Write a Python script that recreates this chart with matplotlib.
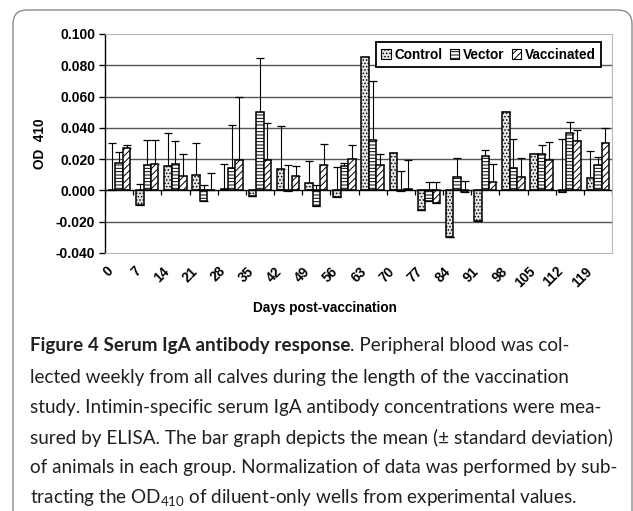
import numpy as np
import matplotlib
matplotlib.use("Agg")
import matplotlib.pyplot as plt
from matplotlib.patches import FancyBboxPatch, Patch
from matplotlib.transforms import IdentityTransform, ScaledTranslation

plt.rcParams['axes.unicode_minus'] = False
plt.rcParams['hatch.linewidth'] = 0.7
plt.rcParams['mathtext.fontset'] = 'custom'
plt.rcParams['mathtext.rm'] = 'Lato'

# data (mean and +SD)
days = [0, 7, 14, 21, 28, 35, 42, 49, 56, 63, 70, 77, 84, 91, 98, 105, 112, 119]
control = [0.0005, -0.0096, 0.0153, 0.0098, 0.001, -0.0036, 0.014, 0.0049, -0.0043,
           0.085, 0.024, -0.0127, -0.030, -0.0195, 0.050, 0.0235, -0.001, 0.008]
control_sd = [0.0295, 0.0139, 0.0217, 0.0208, 0.016, 0.0, 0.027, 0.014, 0.0193,
              0.0, 0.0, 0.0, 0.0, 0.0, 0.0, 0.0, 0.034, 0.0175]
vector = [0.0176, 0.0164, 0.0168, -0.0068, 0.0145, 0.050, -0.0005, -0.010, 0.0153,
          0.032, -0.0005, -0.007, 0.0083, 0.022, 0.0145, 0.023, 0.0367, 0.016]
vector_sd = [0.007, 0.0156, 0.0148, 0.0102, 0.0275, 0.0345, 0.0165, 0.0134, 0.002,
             0.038, 0.0132, 0.0127, 0.0127, 0.004, 0.0185, 0.006, 0.0068, 0.0055]
vaccinated = [0.027, 0.0168, 0.0094, 0.0003, 0.0195, 0.0195, 0.0093, 0.016, 0.020,
              0.016, 0.001, -0.0083, -0.001, 0.0055, 0.0085, 0.0197, 0.0314, 0.0304]
vaccinated_sd = [0.002, 0.0152, 0.0136, 0.0107, 0.0405, 0.0235, 0.0064, 0.0135, 0.009,
                 0.0076, 0.0187, 0.014, 0.007, 0.0111, 0.0125, 0.0111, 0.007, 0.0096]

series = [("Control", control, control_sd, '#e6e6e6', '.....'),
          ("Vector", vector, vector_sd, 'white', '-----'),
          ("Vaccinated", vaccinated, vaccinated_sd, 'white', '/////')]

W, H = 633, 511
fig = plt.figure(figsize=(W / 100, H / 100), dpi=100)

# rounded panel border
fig.add_artist(FancyBboxPatch((13, -20), 619, 521, boxstyle="round,pad=0,rounding_size=14",
                              transform=IdentityTransform(), fill=False,
                              edgecolor='#8a8a8a', linewidth=1.0))

ax = fig.add_axes([105 / W, 1 - 253 / H, 507 / W, 219 / H])
x = np.arange(len(days))
bw = 0.266
for k, (name, vals, sd, fc, hatch) in enumerate(series):
    pos = x + (k - 1) * bw
    ax.errorbar(pos, vals, yerr=[np.zeros(len(sd)), sd], fmt='none', ecolor='black',
                elinewidth=0.8, capsize=2.6, capthick=0.9, zorder=2)
    ax.bar(pos, vals, width=bw, color=fc, edgecolor='black', hatch=hatch,
           linewidth=1.1, zorder=3, label=name)

ax.set_xlim(-0.5, len(days) - 0.5)
ax.set_ylim(-0.04, 0.10)
ax.set_yticks(np.arange(-0.04, 0.1001, 0.02))
ax.yaxis.set_major_formatter(matplotlib.ticker.FormatStrFormatter('%.3f'))
for yv in [-0.02, 0.02, 0.04, 0.06, 0.08]:
    ax.axhline(yv, color='#555555', linewidth=1.0, zorder=1)
ax.axhline(0, color='black', linewidth=1.0, zorder=4)
ax.vlines(np.arange(len(days) + 1) - 0.5, -0.0028, 0, color='black', linewidth=0.9, zorder=4)

for s in ['top', 'right', 'bottom']:
    ax.spines[s].set_color('#b8b8b8')
ax.spines['left'].set_color('black')
ax.spines['left'].set_linewidth(1.0)

ax.tick_params(axis='y', direction='out', length=4, width=1, labelsize=10, pad=3)
ax.tick_params(axis='x', length=0, pad=8, labelsize=9.8)
ax.set_xticks(x)
ax.set_xticklabels([str(d) for d in days], rotation=45, ha='right', fontweight='bold',
                   family='Liberation Sans')
off = ScaledTranslation(-2.5 / 72, 0, fig.dpi_scale_trans)
for lab in ax.get_xticklabels():
    lab.set_transform(lab.get_transform() + off)
for lab in ax.get_yticklabels():
    lab.set_fontweight('bold')
    lab.set_family('Liberation Sans')

ax.set_ylabel("OD  410", fontsize=9.8, fontweight='bold', family='Liberation Sans', labelpad=6)
fig.text(325 / W, 1 - 308 / H, "Days post-vaccination", ha='center', va='center',
         fontsize=9.8, fontweight='bold', family='Liberation Sans')

handles = [Patch(facecolor=fc, edgecolor='black', hatch=h, label=n, linewidth=0.8)
           for n, _, _, fc, h in series]
leg = ax.legend(handles=handles, loc='upper right', bbox_to_anchor=(0.978, 0.963), ncol=3,
                prop={'family': 'Liberation Sans', 'weight': 'bold', 'size': 9.8},
                fancybox=False, framealpha=1, edgecolor='black', borderpad=0.4,
                handlelength=0.7, handleheight=0.7, handletextpad=0.25, columnspacing=0.55,
                borderaxespad=0)
leg.get_frame().set_linewidth(1.3)

# caption
cap_font = dict(family='Lato', fontsize=13.6, color='#231f20', va='center', ha='left')
x0 = 30 / W
t1 = fig.text(x0, 1 - 346 / H, "Figure 4 Serum IgA antibody response", fontweight='bold', **cap_font)
ax.annotate(". Peripheral blood was col-", xy=(1, 0), xycoords=t1, va='bottom', ha='left',
            family='Lato', fontsize=13.6, color='#231f20', annotation_clip=False)
lines = ["lected weekly from all calves during the length of the vaccination",
         "study. Intimin-specific serum IgA antibody concentrations were mea-",
         "sured by ELISA. The bar graph depicts the mean (\u00b1 standard deviation)",
         "of animals in each group. Normalization of data was performed by sub-",
         r"tracting the OD$_{\mathrm{410}}$ of diluent-only wells from experimental values."]
for i, ln in enumerate(lines):
    fig.text(x0, 1 - (377 + 30.3 * i) / H, ln, **cap_font)

fig.savefig("out.png", dpi=100)
